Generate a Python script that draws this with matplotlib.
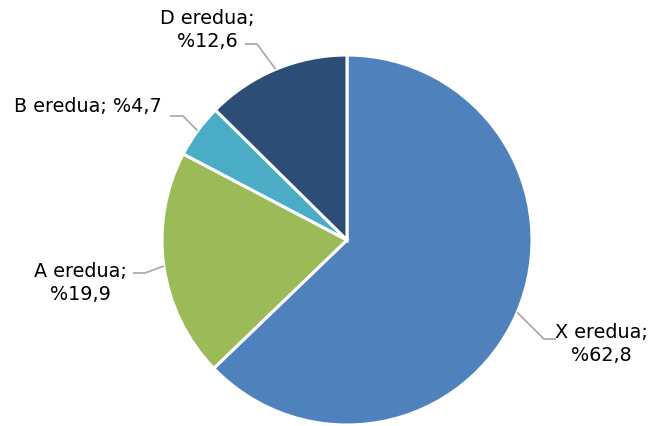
import numpy as np
import matplotlib.pyplot as plt

labels = ['X eredua', 'A eredua', 'B eredua', 'D eredua']
values = [62.8, 19.9, 4.7, 12.6]
colors = ['#4F81BD', '#9BBB59', '#4BACC6', '#2C4D75']

W, H = 667, 427
fig = plt.figure(figsize=(W / 100, H / 100), dpi=100)
ax = fig.add_axes([0, 0, 1, 1])

cx, cy, r = 347, H - 241, 185
wedges, _ = ax.pie(values, colors=colors, startangle=90, counterclock=False,
                   center=(cx, cy), radius=r,
                   wedgeprops=dict(edgecolor='white', linewidth=2.2))
ax.set_xlim(0, W)
ax.set_ylim(0, H)
ax.set_aspect('equal')
ax.axis('off')

# label text position (pixels, top-left origin), elbow and line end
label_pos = {
    'X eredua': (601, 344, [(556, 340), (544, 340)]),
    'A eredua': (80, 283, [(133, 274), (145, 274)]),
    'B eredua': (88, 107, [(170, 117), (183, 117)]),
    'D eredua': (207, 30, [(245, 45), (257, 45)]),
}

for w, lab, val in zip(wedges, labels, values):
    ang = np.deg2rad((w.theta1 + w.theta2) / 2)
    ex, ey = cx + r * np.cos(ang), cy + r * np.sin(ang)
    tx, ty, pts = label_pos[lab]
    xs = [p[0] for p in pts] + [ex]
    ys = [H - p[1] for p in pts] + [ey]
    ax.plot(xs, ys, color='#A6A6A6', lw=1.2, solid_capstyle='butt')
    pct = f'%{val:.1f}'.replace('.', ',')
    if lab == 'B eredua':
        txt = f'{lab}; {pct}'
    else:
        txt = f'{lab};\n{pct}'
    ax.text(tx, H - ty, txt, ha='center', va='center', fontsize=13.8,
            family='DejaVu Sans', color='#000000', linespacing=1.3)

fig.savefig('out.png', dpi=100)
